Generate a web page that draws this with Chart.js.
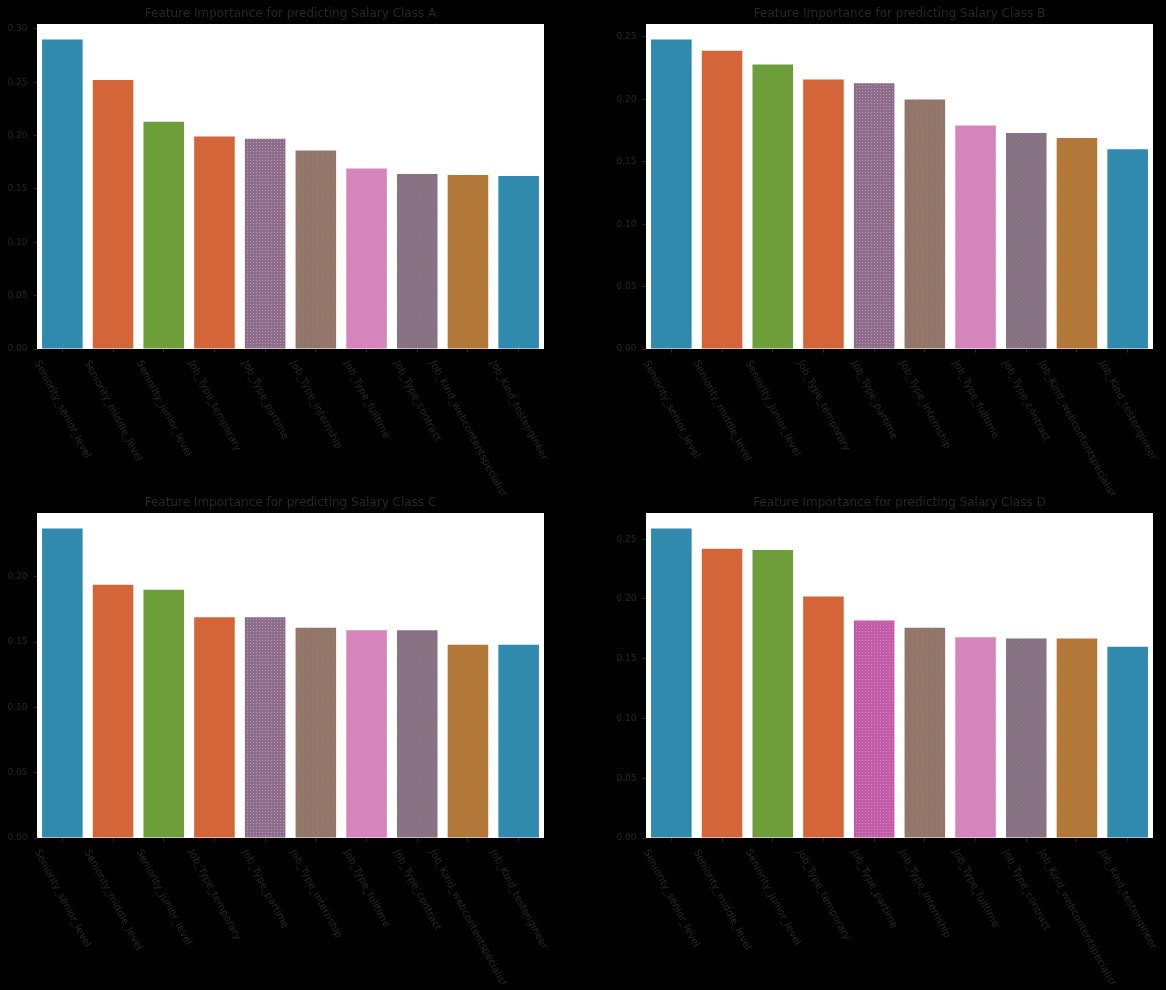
<!DOCTYPE html>
<html>
<head>
<meta charset="utf-8">
<script src="https://cdn.jsdelivr.net/npm/chart.js@4.4.0/dist/chart.umd.min.js"></script>
<style>
  body { margin: 0; background: #000; }
  .box { position: absolute; width: 560px; height: 495px; }
</style>
</head>
<body>
<div class="box" style="left:0;top:0"><canvas id="cA" width="560" height="495"></canvas></div>
<div class="box" style="left:609px;top:0"><canvas id="cB" width="560" height="495"></canvas></div>
<div class="box" style="left:0;top:489px"><canvas id="cC" width="560" height="495"></canvas></div>
<div class="box" style="left:609px;top:489px"><canvas id="cD" width="560" height="495"></canvas></div>
<script>
const features = [
  'Seniority_senior_level', 'Seniority_middle_level', 'Seniority_junior_level',
  'Job_Type_temporary', 'Job_Type_partime', 'Job_Type_internship',
  'Job_Type_fulltime', 'Job_Type_contract', 'Job_Kind_webcontentspecialist',
  'Job_Kind_testengineer'
];
const classA = [0.290, 0.252, 0.213, 0.199, 0.197, 0.186, 0.169, 0.164, 0.163, 0.162];
const classB = [0.248, 0.239, 0.228, 0.216, 0.213, 0.200, 0.179, 0.173, 0.169, 0.160];
const classC = [0.237, 0.194, 0.190, 0.169, 0.169, 0.161, 0.159, 0.159, 0.148, 0.148];
const classD = [0.259, 0.242, 0.241, 0.202, 0.182, 0.176, 0.168, 0.167, 0.167, 0.160];

const TXT = '#262626';
Chart.defaults.font.family = 'DejaVu Sans';
Chart.defaults.color = TXT;

const blue = '#2f8aad', orange = '#d36538', green = '#6e9e3a', pink = '#d684bc', mauve = '#8a6f8a';

// small dithered tiles, like the mixed colours in the picture
function tile(rows, pal) {
  const c = document.createElement('canvas');
  c.width = rows[0].length; c.height = rows.length;
  const g = c.getContext('2d');
  rows.forEach((r, y) => { for (let x = 0; x < r.length; x++) { g.fillStyle = pal[r[x]]; g.fillRect(x, y, 1, 1); } });
  return g.createPattern(c, 'repeat');
}
const pal = { m: mauve, p: pink, o: orange, g: green, k: '#c25ca8' };
const partime = tile(['mmm', 'mpm', 'mmm'], pal);
const partimeD = tile(['kkk', 'kpk', 'kkk'], pal);
const internship = tile(['momgm', 'gmmom', 'mogmm', 'mmmgo', 'omgmm'], pal);
const contract = tile(['mmmmm', 'mmgmm', 'mmmmm', 'mmmmg', 'mmmmm'], pal);
const webcontent = tile(['ogo', 'goo', 'oog'], pal);

const colsABC = [blue, orange, green, orange, partime, internship, pink, contract, webcontent, blue];
const colsD = [blue, orange, green, orange, partimeD, internship, pink, contract, webcontent, blue];

const whiteArea = {
  id: 'whiteArea',
  beforeDraw(chart) {
    const a = chart.chartArea, ctx = chart.ctx;
    ctx.save(); ctx.fillStyle = '#fff';
    ctx.fillRect(a.left, a.top, a.right - a.left, a.bottom - a.top);
    ctx.restore();
  }
};

// slanted category labels, centred under each tick
const slantLabels = {
  id: 'slantLabels',
  afterDraw(chart) {
    const ctx = chart.ctx, xs = chart.scales.x, y0 = chart.chartArea.bottom + 10;
    const th = 62 * Math.PI / 180, fs = 10;
    ctx.save();
    ctx.font = fs + 'px "DejaVu Sans"';
    ctx.fillStyle = TXT;
    ctx.textAlign = 'center'; ctx.textBaseline = 'middle';
    chart.data.labels.forEach((lab, i) => {
      const w = ctx.measureText(lab).width;
      const bh = w * Math.sin(th) + fs * Math.cos(th);
      ctx.save();
      ctx.translate(xs.getPixelForTick(i), y0 + bh / 2);
      ctx.rotate(th);
      ctx.fillText(lab, 0, 0);
      ctx.restore();
    });
    ctx.restore();
  }
};

function makeChart(id, title, values, colors) {
  new Chart(document.getElementById(id), {
    type: 'bar',
    data: {
      labels: features,
      datasets: [{ data: values, backgroundColor: colors, barPercentage: 0.8, categoryPercentage: 1.0 }]
    },
    options: {
      responsive: false,
      animation: false,
      layout: { padding: { left: 0, right: 16, top: 0, bottom: 0 } },
      plugins: {
        legend: { display: false },
        tooltip: { enabled: false },
        title: {
          display: true, text: title, color: TXT, fullSize: false,
          font: { size: 12, weight: 'normal', lineHeight: 1.2 },
          padding: { top: 6.4, bottom: 3.2 }
        }
      },
      scales: {
        x: {
          offset: true,
          border: { display: false },
          grid: { display: true, drawOnChartArea: false, drawTicks: true, tickLength: 3.5, color: TXT, offset: false },
          ticks: { display: false },
          afterFit(s) { s.height = 146; }
        },
        y: {
          min: 0,
          max: Math.max(...values) * 1.05,
          border: { display: false },
          grid: { drawOnChartArea: false, drawTicks: true, tickLength: 3.5, color: TXT },
          ticks: {
            stepSize: 0.05, includeBounds: false, padding: 6, color: TXT,
            font: { size: 9 },
            callback: v => v.toFixed(2)
          },
          afterFit(s) { s.width = 37; }
        }
      }
    },
    plugins: [whiteArea, slantLabels]
  });
}

makeChart('cA', 'Feature Importance for predicting Salary Class A', classA, colsABC);
makeChart('cB', 'Feature Importance for predicting Salary Class B', classB, colsABC);
makeChart('cC', 'Feature Importance for predicting Salary Class C', classC, colsABC);
makeChart('cD', 'Feature Importance for predicting Salary Class D', classD, colsD);
</script>
</body>
</html>
